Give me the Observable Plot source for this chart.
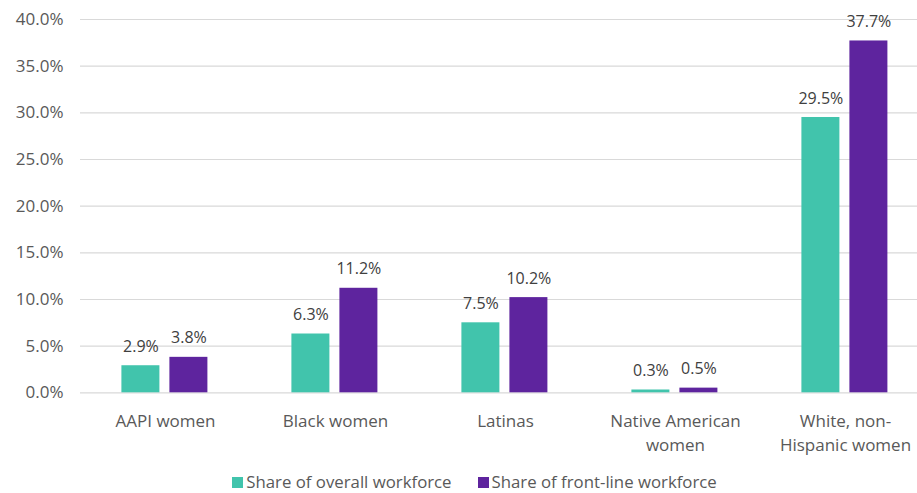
<!DOCTYPE html>
<html>
<head>
<meta charset="utf-8">
<script src="https://cdn.jsdelivr.net/npm/d3@7"></script>
<script src="https://cdn.jsdelivr.net/npm/@observablehq/plot@0.6"></script>
<style>
  html, body { margin: 0; padding: 0; background: #fff; overflow: hidden; }
  #wrap { width: 917px; position: relative; font-family: "Open Sans", sans-serif; }
  #chart { width: 917px; overflow: hidden; }
  #chart svg { max-width: none !important; display: block; }
  #legend { display: flex; justify-content: center; gap: 26px; padding-left: 32px; line-height: 20px; margin-top: 0; align-items: center; font-size: 16.8px; color: #595959; }
  .sw { display: inline-block; width: 11px; height: 11px; margin-right: 3px; }
  .item { display: flex; align-items: center; }
</style>
</head>
<body>
<div id="wrap"><div id="chart"></div><div id="legend"></div></div>
<script>
const categories = ["AAPI women", "Black women", "Latinas", "Native American women", "White, non-Hispanic women"];
const categoryLabels = ["AAPI women", "Black women", "Latinas", "Native American\nwomen", "White, non-\nHispanic women"];
const series = ["Share of overall workforce", "Share of front-line workforce"];
const overall = [2.9, 6.3, 7.5, 0.3, 29.5];
const frontline = [3.8, 11.2, 10.2, 0.5, 37.7];
const yTicks = [0, 5, 10, 15, 20, 25, 30, 35, 40];
const colors = ["#41C4AC", "#5E249E"];

const data = [];
categories.forEach((c, i) => {
  data.push({category: c, series: series[0], value: overall[i]});
  data.push({category: c, series: series[1], value: frontline[i]});
});
const labelOf = new Map(categories.map((c, i) => [c, categoryLabels[i]]));

const H = 472;
const chart = Plot.plot({
  width: 932,
  height: H,
  marginLeft: 77.6,
  marginRight: 0,
  marginTop: 19,
  marginBottom: H - 392.3,
  style: {fontFamily: "'Open Sans', sans-serif", background: "#fff", maxWidth: "none"},
  fx: {domain: categories, padding: 0, label: null, axis: null},
  x: {domain: series, paddingInner: 0.2, paddingOuter: 0.86, axis: null},
  y: {domain: [0, 40], label: null},
  color: {domain: series, range: colors},
  marks: [
    Plot.gridY(yTicks, {stroke: "#d9d9d9", strokeOpacity: 1, strokeWidth: 1.2}),
    Plot.axisY(yTicks, {tickSize: 0, tickPadding: 17, tickFormat: d => d.toFixed(1) + "%", fontSize: 17, fill: "#595959", label: null}),
    Plot.axisFx({anchor: "bottom", tickSize: 0, tickPadding: 17, tickFormat: d => labelOf.get(d), fontSize: 17, lineHeight: 1.42, fill: "#595959", label: null}),
    Plot.barY(data, {fx: "category", x: "series", y: "value", fill: "series"}),
    Plot.text(data, {fx: "category", x: "series", y: "value", text: d => d.value.toFixed(1) + "%", dy: -19, lineAnchor: "middle", fontSize: 16, fill: "#404040"})
  ]
});
chart.style.maxWidth = "none";
document.getElementById("chart").appendChild(chart);

const legend = document.getElementById("legend");
series.forEach((s, i) => {
  const item = document.createElement("div");
  item.className = "item";
  const sw = document.createElement("span");
  sw.className = "sw";
  sw.style.background = colors[i];
  item.appendChild(sw);
  const t = document.createElement("span");
  t.textContent = s;
  item.appendChild(t);
  legend.appendChild(item);
});
</script>
</body>
</html>
